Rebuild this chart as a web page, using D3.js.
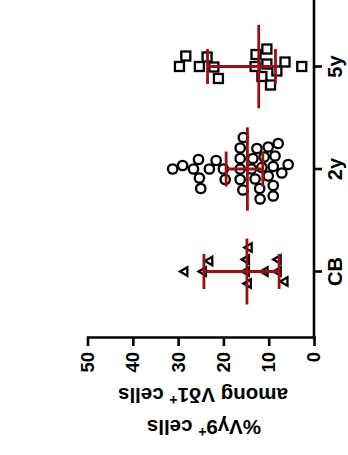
<!DOCTYPE html>
<html><head><meta charset="utf-8">
<script src="https://cdn.jsdelivr.net/npm/d3@7"></script>
<style>body{margin:0;background:#fff}svg{display:block}</style>
</head><body>
<svg id="c" width="348" height="455"></svg>
<script>
// ---- data ----
const categories = ["CB", "2y", "5y"];
const cbValues = [28.5, 23.0, 24.4, 14.5, 14.3, 14.9, 14.9, 10.8, 7.9, 6.4, 7.9];
const y2Values = [31.2, 29.0, 25.3, 25.0, 21.6, 23.1, 25.5, 26.6, 19.6, 20.0, 16.3, 16.3, 15.7, 15.6, 16.3, 16.3,
                  13.0, 13.8, 12.6, 11.5, 11.9, 9.0, 8.6, 7.1, 10.1, 7.9, 5.7, 9.0, 9.0, 10.1, 12.0, 13.5, 11.0];
const y5Values = [29.7, 28.3, 23.6, 25.3, 22.1, 21.1, 13.0, 9.6, 10.4, 6.4, 8.2, 11.5, 12.8, 10.4, 2.7];
const centerValues = [14.8, 14.7, 12.2];
const lowerValues = [7.7, 11.3, 8.5];
const upperValues = [24.3, 19.4, 23.5];
const valueTicks = [0, 10, 20, 30, 40, 50];
const titleLines = ["%Vγ9+ cells", "among Vδ1+ cells"];

// ---- styles ----
const FONT = "'Liberation Sans', Arial, Helvetica, sans-serif";
const RED = "#9a1010";
const meanHalf = [33, 41.7, 41.7];
const capHalf = 17.5;
const groups = [
  {vals: cbValues, shape: "tri", d: 12},
  {vals: y2Values, shape: "circle", d: 10.5},
  {vals: y5Values, shape: "square", d: 12}
];

const svg = d3.select("#c");
// chart is drawn in its original (unrotated) frame 455 x 348 then turned 90° counter-clockwise
const g = svg.append("g").attr("transform", "translate(0,455) rotate(-90)");

const y = d3.scaleLinear().domain([0, 50]).range([314, 87.5]);
const x = d3.scaleBand().domain(categories).range([132.25, 439.75]);
const cx = c => x(c) + x.bandwidth() / 2;

// value axis
const ya = g.append("g").attr("transform", "translate(117,0)")
  .call(d3.axisLeft(y).tickValues(valueTicks).tickSize(8).tickPadding(6).tickSizeOuter(0));
ya.select(".domain").attr("stroke-width", 2.6).attr("stroke-linecap", "square");
ya.selectAll(".tick line").attr("stroke-width", 2.6);
ya.selectAll("text").attr("font-family", FONT).attr("font-weight", "bold").attr("font-size", 18.5);

// category axis
const xa = g.append("g").attr("transform", "translate(0,314)")
  .call(d3.axisBottom(x).tickSize(8).tickPadding(6));
xa.select(".domain").remove();
xa.append("line").attr("x1", 117).attr("x2", 470).attr("stroke", "#000").attr("stroke-width", 2.6).attr("stroke-linecap", "square");
xa.selectAll(".tick line").attr("stroke-width", 2.6);
xa.selectAll("text").attr("font-family", FONT).attr("font-weight", "bold").attr("font-size", 20);

// simple beeswarm along the category direction
function swarm(vals, d) {
  const pts = vals.map(v => ({v, py: y(v)})).sort((a, b) => a.py - b.py);
  const placed = [];
  pts.forEach(p => {
    let best = 0;
    for (let k = 0; k < 400; k++) {
      const off = (k % 2 ? 1 : -1) * Math.ceil(k / 2) * 0.5;
      const ok = placed.every(q => (q.off - off) ** 2 + (q.py - p.py) ** 2 >= d * d);
      if (ok) { best = off; break; }
    }
    p.off = best; placed.push(p);
  });
  return pts;
}

groups.forEach((grp, i) => {
  const c = cx(categories[i]);
  const pts = swarm(grp.vals, grp.d);
  const gg = g.append("g").attr("fill", "none").attr("stroke", "#000").attr("stroke-width", 2.3);
  pts.forEach(p => {
    const px = c + p.off, py = p.py;
    if (grp.shape === "circle") {
      gg.append("circle").attr("cx", px).attr("cy", py).attr("r", 4.7);
    } else if (grp.shape === "square") {
      gg.append("rect").attr("x", px - 4.5).attr("y", py - 4.5).attr("width", 9).attr("height", 9);
    } else {
      const s = 8.5, h = s * 0.866;
      gg.append("path").attr("d", `M${px},${py - h * 2 / 3}L${px + s / 2},${py + h / 3}L${px - s / 2},${py + h / 3}Z`);
    }
  });
});

// mean / error bars
categories.forEach((cat, i) => {
  const c = cx(cat);
  const eb = g.append("g").attr("stroke", RED).attr("stroke-width", 2.8);
  eb.append("line").attr("x1", c).attr("x2", c).attr("y1", y(lowerValues[i])).attr("y2", y(upperValues[i]));
  eb.append("line").attr("x1", c - meanHalf[i]).attr("x2", c + meanHalf[i]).attr("y1", y(centerValues[i])).attr("y2", y(centerValues[i]));
  [lowerValues[i], upperValues[i]].forEach(v =>
    eb.append("line").attr("x1", c - capHalf).attr("x2", c + capHalf).attr("y1", y(v)).attr("y2", y(v)));
});

// axis title (two lines, rotated like a y-axis title)
const titlePos = [[28.3, 204], [60, 203]];
titleLines.forEach((line, i) => {
  const t = g.append("text")
    .attr("transform", `translate(${titlePos[i][0]},${titlePos[i][1]}) rotate(-90)`)
    .attr("text-anchor", "middle").attr("dy", "0.35em")
    .attr("font-family", FONT).attr("font-weight", "bold").attr("font-size", 20.5);
  const parts = line.split("+");
  t.append("tspan").text(parts[0]);
  t.append("tspan").attr("font-size", 14).attr("dy", -7).text("+");
  t.append("tspan").attr("dy", 7).text(parts[1]);
});
</script>
</body></html>
